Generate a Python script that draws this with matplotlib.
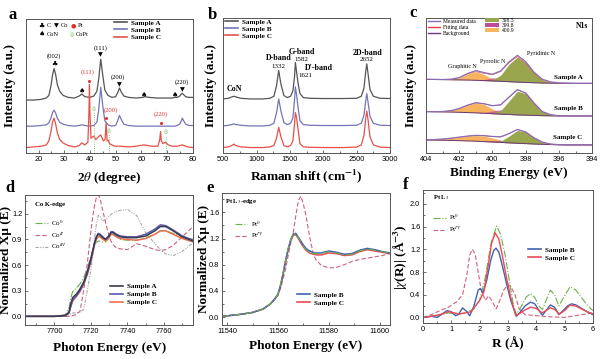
import numpy as np
import matplotlib
matplotlib.use('Agg')
import matplotlib.pyplot as plt
from matplotlib.ticker import MultipleLocator
from matplotlib.lines import Line2D
from matplotlib.patches import Patch

plt.rcParams['font.family'] = ['Liberation Serif', 'DejaVu Sans']
plt.rcParams['mathtext.fontset'] = 'stix'
plt.rcParams['axes.linewidth'] = 0.7

# ---------------- (a) XRD, intensity in arbitrary units (offset stack) ----------------
xrd_x_ab = [15, 18, 21, 23, 24, 24.8, 25.4, 26, 26.6, 27.3, 28.2, 29.5, 31.5, 34, 35.8, 36.8, 38, 40,
            41.5, 42.7, 43.4, 44.2, 45, 45.8, 47, 48.5, 50, 50.8, 51.5, 52.2, 53.2, 55, 58, 60.5, 61.5,
            63, 66, 70, 72, 73, 74, 75, 75.6, 76, 76.5, 77.3, 78.5, 80]
xrd_a = [39.5, 39.5, 40, 41, 43, 50, 58, 63, 59, 51, 46, 43, 41.5, 41, 42.5, 44, 42, 41.5, 42.5, 46,
         55, 70, 58, 47, 43, 41.5, 42, 45, 48.5, 45.5, 42.5, 41.5, 41, 41.5, 42, 41.5, 41, 41, 41, 41.5,
         41.5, 42.5, 44, 44.5, 43.5, 42, 41.5, 41.5]
xrd_b = [20, 20, 20.5, 21, 22.5, 26, 30, 32, 30, 26, 23, 21.5, 20.5, 20, 20.5, 21, 20.5, 20, 20.5, 23,
         32, 49, 35, 24, 21, 20, 20.5, 24, 28, 25, 21.5, 20.5, 20, 20, 20, 20, 20, 20, 20, 20,
         20.5, 21.5, 24, 26, 24, 21.5, 20.5, 20.5]
xrd_x_c = [15, 18, 21, 23, 24, 24.8, 25.4, 26, 26.6, 27.3, 28.2, 29.5, 31.5, 34, 35.8, 36.8, 38, 39.2,
           39.6, 39.8, 40.0, 40.4, 41.0, 41.5, 42.3, 43.2, 44.2, 45.2, 45.9, 46.3, 46.7, 47.2, 47.6, 48.5,
           50, 52, 55, 58, 61, 64, 66.5, 67.2, 67.5, 67.8, 68.4, 69.5, 70.5, 72, 74, 76, 78, 80]
xrd_c = [4, 4.5, 5, 6, 9, 16, 23, 26, 22, 15, 10, 7.5, 5.5, 4.5, 5.5, 7.5, 6, 8, 30, 51,
         30, 11, 12, 12.5, 10, 12, 13.5, 9, 10, 22.5, 9, 9.5, 7, 6, 5, 5, 4.5, 5, 6, 5,
         5, 10, 16, 9, 7, 8, 6, 5, 5, 6, 4.5, 4]

# ---------------- (b) Raman ----------------
raman_x = [500, 580, 630, 660, 690, 760, 900, 1100, 1200, 1260, 1300, 1332, 1365, 1410, 1460, 1510,
           1545, 1570, 1582, 1600, 1621, 1650, 1700, 1800, 2000, 2300, 2500, 2570, 2610, 2635, 2652,
           2670, 2700, 2750, 2850, 3000]
raman_a = [40, 40.5, 41.5, 42, 41.5, 40.5, 40, 40, 40.5, 42, 50, 61, 51, 42.5, 41, 42, 46, 57, 67, 60,
           52, 44, 41, 40.5, 40.3, 40.3, 40.5, 42, 48, 60, 66, 59, 47, 42, 40.5, 40.3]
raman_b = [20, 20.5, 21, 21.5, 21, 20.5, 20, 20, 20.5, 22, 30, 40, 31, 22.5, 21, 22, 26, 40, 49, 43,
           34, 24, 21, 20.5, 20.3, 20.3, 20.5, 22, 28, 38, 44, 38, 27, 22, 20.5, 20.3]
raman_c = [4, 4.5, 5.5, 6.5, 5.5, 4.5, 4, 4, 4.5, 5.5, 11, 19, 12, 5.5, 4.5, 5.5, 9, 22, 30, 26,
           18, 7, 4.5, 4.2, 4, 4, 4.3, 6, 13, 25, 31, 25, 12, 6, 4.3, 4]

# ---------------- (c) N1s XPS ----------------
be = [404, 403.5, 403, 402.5, 402, 401.5, 401, 400.5, 400, 399.5, 399, 398.5, 398, 397.5, 397,
      396.5, 396, 395.5, 395, 394.5, 394]
bg_a = [54.5, 54.4, 54.3, 54.2, 54.1, 54.0, 53.8, 53.6, 53.4, 53.1, 52.8, 52.5, 52.2, 52.0, 51.8,
        51.7, 51.6, 51.6, 51.5, 51.5, 51.5]
n398_a = [0, 0, 0, 0, 0, 0, 0, 0, 0.8, 4.5, 13, 18.5, 14.5, 7, 2.2, 0.5, 0, 0, 0, 0, 0]
n399_a = [0, 0, 0, 0, 0, 0, 0, 0.8, 2.2, 2.4, 1.0, 0.3, 0, 0, 0, 0, 0, 0, 0, 0, 0]
n400_a = [0, 0, 0, 0.3, 1.5, 4.5, 6.4, 4.5, 1.5, 0.3, 0, 0, 0, 0, 0, 0, 0, 0, 0, 0, 0]
meas_a = [54.6, 54.5, 54.4, 54.6, 55.8, 58.8, 61.0, 59.5, 58.3, 60.8, 67.5, 72.3, 67.6, 59.8, 54.6,
          52.6, 51.9, 51.7, 51.6, 51.6, 51.6]
bg_b = [30.6, 30.5, 30.4, 30.3, 30.1, 29.9, 29.7, 29.4, 29.1, 28.8, 28.5, 28.2, 28.0, 27.8, 27.6,
        27.5, 27.4, 27.4, 27.4, 27.4, 27.4]
n398_b = [0, 0, 0, 0, 0, 0, 0, 0, 0.3, 2.5, 10, 17.5, 16, 9, 3, 0.7, 0, 0, 0, 0, 0]
n399_b = [0, 0, 0, 0, 0, 0, 0, 0.5, 2.0, 3.2, 2.5, 1.0, 0.3, 0, 0, 0, 0, 0, 0, 0, 0]
n400_b = [0, 0, 0.3, 1.0, 2.8, 5.5, 7.5, 6.5, 3.5, 1.0, 0.2, 0, 0, 0, 0, 0, 0, 0, 0, 0, 0]
meas_b = [30.6, 30.5, 30.7, 31.3, 32.9, 35.4, 37.2, 36.4, 35.0, 35.7, 41.4, 46.9, 44.4, 37.0, 30.6,
          28.3, 27.5, 27.4, 27.4, 27.4, 27.4]
bg_c = [9.6, 9.5, 9.4, 9.3, 9.1, 8.9, 8.7, 8.4, 8.1, 7.8, 7.5, 7.2, 6.9, 6.6, 6.4, 6.2, 6.0, 5.9,
        5.9, 5.9, 5.9]
n398_c = [0, 0, 0, 0, 0, 0, 0, 0, 0, 0.8, 5, 9.5, 8.5, 4.5, 1.5, 0.3, 0, 0, 0, 0, 0]
n399_c = [0, 0, 0, 0, 0, 0, 0, 0.3, 1.0, 1.6, 1.2, 0.5, 0, 0, 0, 0, 0, 0, 0, 0, 0]
n400_c = [0, 0.3, 0.8, 1.5, 2.5, 3.5, 4.2, 4.0, 3.0, 1.6, 0.6, 0.2, 0, 0, 0, 0, 0, 0, 0, 0, 0]
meas_c = [9.7, 9.9, 10.3, 10.9, 11.7, 12.5, 13.0, 12.8, 12.2, 12.0, 14.3, 17.4, 15.5, 11.2, 8.0,
          6.6, 6.1, 6.0, 6.0, 6.0, 6.0]

# ---------------- (d) Co K-edge XANES ----------------
e_co = [7684, 7700, 7706, 7708, 7709, 7710, 7712, 7714, 7716, 7718, 7720, 7721, 7722, 7723, 7724,
        7725, 7726, 7728, 7730, 7731, 7732, 7734, 7736, 7740, 7745, 7750, 7755, 7758, 7761, 7765,
        7770, 7776]
co_a = [0.0, 0.0, 0.01, 0.05, 0.15, 0.22, 0.26, 0.32, 0.40, 0.52, 0.68, 0.77, 0.86, 0.93, 0.96, 0.95,
        0.93, 0.9, 0.94, 0.98, 0.98, 0.95, 0.93, 0.92, 0.92, 0.94, 1.0, 1.05, 1.05, 1.0, 0.93, 0.88]
co_b = [0.0, 0.0, 0.01, 0.04, 0.12, 0.19, 0.24, 0.3, 0.38, 0.5, 0.66, 0.76, 0.86, 0.93, 0.97, 0.96,
        0.94, 0.9, 0.95, 0.99, 0.99, 0.96, 0.94, 0.93, 0.93, 0.96, 1.02, 1.07, 1.06, 1.01, 0.94, 0.89]
co_c = [0.0, 0.0, 0.01, 0.04, 0.12, 0.18, 0.23, 0.29, 0.37, 0.49, 0.64, 0.74, 0.84, 0.9, 0.93, 0.93,
        0.91, 0.88, 0.92, 0.96, 0.96, 0.93, 0.91, 0.9, 0.89, 0.91, 0.96, 1.0, 1.0, 0.96, 0.91, 0.87]
co_0 = [0.0, 0.0, 0.02, 0.1, 0.22, 0.29, 0.33, 0.38, 0.45, 0.56, 0.7, 0.78, 0.84, 0.87, 0.88, 0.88,
        0.87, 0.87, 0.92, 0.96, 0.96, 0.93, 0.9, 0.89, 0.89, 0.92, 0.96, 1.0, 1.0, 0.97, 0.93, 0.9]
co_2 = [0.0, 0.0, 0.0, 0.0, 0.0, 0.01, 0.02, 0.06, 0.3, 0.62, 1.0, 1.17, 1.3, 1.39, 1.42, 1.38,
        1.28, 1.1, 0.93, 0.88, 0.84, 0.8, 0.79, 0.78, 0.85, 0.82, 0.78, 0.77, 0.78, 0.83, 0.93, 1.05]
co_3 = [0.0, 0.0, 0.0, 0.02, 0.03, 0.04, 0.04, 0.05, 0.08, 0.3, 0.55, 0.72, 0.92, 1.08, 1.18, 1.17,
        1.12, 1.13, 1.17, 1.19, 1.21, 1.23, 1.24, 1.25, 1.18, 0.98, 0.85, 0.78, 0.73, 0.71, 0.76, 0.86]

# ---------------- (e) Pt L3-edge XANES ----------------
e_pt = [11538, 11545, 11550, 11554, 11557, 11559, 11560, 11561, 11562, 11563, 11564, 11565, 11566,
        11567, 11568, 11569, 11570, 11571, 11572, 11573, 11574, 11575, 11577, 11580, 11583, 11586,
        11589, 11592, 11595, 11598, 11601, 11604]
pt_b = [0.01, 0.04, 0.07, 0.12, 0.2, 0.29, 0.35, 0.48, 0.66, 0.86, 1.04, 1.18, 1.27, 1.28, 1.22, 1.16,
        1.1, 1.05, 1.02, 1.0, 0.98, 0.98, 0.98, 1.01, 0.99, 0.96, 0.97, 1.02, 1.05, 1.03, 1.0, 0.98]
pt_c = [0.01, 0.04, 0.07, 0.12, 0.2, 0.29, 0.35, 0.48, 0.66, 0.86, 1.03, 1.17, 1.25, 1.26, 1.2, 1.13,
        1.07, 1.02, 0.99, 0.97, 0.96, 0.95, 0.95, 0.98, 0.97, 0.94, 0.95, 1.0, 1.03, 1.01, 0.99, 0.97]
pt_0 = [0.01, 0.04, 0.07, 0.12, 0.2, 0.29, 0.36, 0.5, 0.68, 0.88, 1.05, 1.19, 1.27, 1.27, 1.21, 1.15,
        1.08, 1.03, 1.0, 0.98, 0.97, 0.97, 0.97, 1.0, 0.98, 0.95, 0.96, 1.01, 1.04, 1.02, 1.0, 0.98]
pt_4 = [0.01, 0.04, 0.07, 0.12, 0.2, 0.28, 0.33, 0.44, 0.58, 0.74, 0.94, 1.13, 1.3, 1.55, 1.78, 1.85,
        1.72, 1.55, 1.32, 1.12, 0.95, 0.87, 0.79, 0.75, 0.76, 0.8, 0.85, 0.88, 0.9, 0.92, 0.94, 0.97]

# ---------------- (f) Pt L3 EXAFS, R space ----------------
r_b = [0.0, 0.3, 0.5, 0.7, 0.85, 1.0, 1.15, 1.25, 1.4, 1.55, 1.65, 1.8, 1.95, 2.02, 2.12, 2.25, 2.4,
       2.5, 2.58, 2.68, 2.8, 2.95, 3.1, 3.3, 3.45, 3.6, 3.8, 3.95, 4.1, 4.22, 4.35, 4.5, 4.65, 4.8,
       4.95, 5.1, 5.25, 5.4, 5.6, 5.8, 6.0]
ft_b = [0.0, 0.02, 0.0, 0.07, 0.12, 0.1, 0.03, 0.05, 0.17, 0.1, 0.03, 0.2, 0.48, 0.51, 0.43, 0.65,
        1.02, 1.18, 1.22, 1.15, 0.92, 0.6, 0.3, 0.02, 0.1, 0.2, 0.27, 0.24, 0.12, 0.04, 0.12, 0.22,
        0.18, 0.05, 0.12, 0.2, 0.24, 0.22, 0.16, 0.1, 0.05]
r_c = [0.0, 0.3, 0.6, 0.9, 1.1, 1.3, 1.5, 1.7, 1.85, 2.0, 2.15, 2.3, 2.42, 2.55, 2.68, 2.8, 2.95,
       3.1, 3.28, 3.45, 3.6, 3.8, 4.0, 4.2, 4.35, 4.5, 4.65, 4.82, 5.0, 5.2, 5.4, 5.6, 5.8, 6.0]
ft_c = [0.0, 0.02, 0.05, 0.1, 0.08, 0.06, 0.08, 0.1, 0.2, 0.3, 0.45, 0.9, 1.3, 1.49, 1.38, 1.1, 0.7,
        0.35, 0.03, 0.08, 0.13, 0.18, 0.16, 0.08, 0.12, 0.17, 0.14, 0.06, 0.12, 0.22, 0.2, 0.15, 0.1,
        0.06]
r_0 = [0.0, 0.3, 0.6, 0.9, 1.2, 1.5, 1.8, 2.0, 2.2, 2.4, 2.6, 2.75, 2.9, 3.05, 3.2, 3.3, 3.5, 3.65,
       3.8, 3.95, 4.1, 4.22, 4.35, 4.5, 4.65, 4.8, 5.0, 5.2, 5.4, 5.6, 5.8, 6.0]
ft_0 = [0.0, 0.02, 0.04, 0.08, 0.06, 0.08, 0.15, 0.3, 0.7, 1.3, 1.61, 1.45, 1.1, 0.65, 0.2, 0.05,
        0.22, 0.36, 0.42, 0.35, 0.2, 0.14, 0.3, 0.48, 0.4, 0.2, 0.38, 0.54, 0.48, 0.35, 0.22, 0.12]
r_4 = [0.0, 0.3, 0.6, 0.9, 1.2, 1.4, 1.55, 1.65, 1.75, 1.85, 1.95, 2.05, 2.2, 2.32, 2.45, 2.58, 2.7,
       2.85, 3.0, 3.1, 3.25, 3.4, 3.6, 4.0, 4.5, 5.0, 5.5, 6.0]
ft_4 = [0.0, 0.05, 0.12, 0.18, 0.28, 0.4, 0.75, 1.1, 1.2, 1.1, 0.8, 0.5, 0.3, 0.38, 0.28, 0.15, 0.28,
        0.48, 0.58, 0.55, 0.4, 0.15, 0.05, 0.03, 0.01, 0.0, 0.04, 0.08]

samples = ['Sample A', 'Sample B', 'Sample C']

# colours
c_a, c_b, c_c = '#555555', '#7474b8', '#e8504a'
c_green, c_pink, c_grey = '#6cb04a', '#d0607e', '#a8a8a8'
DASHDOTDOT = (0, (3, 1.2, 1, 1.2, 1, 1.2))

fig = plt.figure(figsize=(6, 3.59), dpi=100)


def style(ax, xmaj, xmin, ymaj=None, ymin=None):
    ax.xaxis.set_major_locator(MultipleLocator(xmaj))
    ax.xaxis.set_minor_locator(MultipleLocator(xmin))
    if ymaj is None:
        ax.set_yticks([])
    else:
        ax.yaxis.set_major_locator(MultipleLocator(ymaj))
        ax.yaxis.set_minor_locator(MultipleLocator(ymin))
    ax.tick_params(which='both', direction='in', labelsize=5.3, pad=2, width=0.6,
                   color='#555555', labelfontfamily='Liberation Sans')
    ax.tick_params(which='major', length=2.5)
    ax.tick_params(which='minor', length=1.5)
    for s in ax.spines.values():
        s.set_color('#555555')


def labels(ax, xl, yl, xy, yx):
    ax.set_xlabel(xl, fontsize=9.5, fontweight='bold')
    ax.set_ylabel(yl, fontsize=9.5, fontweight='bold')
    ax.xaxis.set_label_coords(0.5, xy)
    ax.yaxis.set_label_coords(yx, 0.5)


def legend(ax, handles, names, x, y, size=5.2, weight='bold', spacing=0.15, hl=1.8):
    return ax.legend(handles, names, loc='upper left', bbox_to_anchor=(x, y), frameon=False,
                     borderpad=0, borderaxespad=0, handlelength=hl, handletextpad=0.5,
                     labelspacing=spacing, prop={'family': 'Liberation Serif', 'weight': weight,
                                                 'size': size})


sample_handles = [Line2D([], [], color=c, lw=1.2) for c in (c_a, c_b, c_c)]

# ======== (a) ========
ax = fig.add_axes([0.043, 0.574, 0.278, 0.373])
for xs, ys, col in [(xrd_x_ab, xrd_a, c_a), (xrd_x_ab, xrd_b, c_b), (xrd_x_c, xrd_c, c_c)]:
    ax.plot(xs, ys, color=col, lw=0.9)
ax.set_xlim(15, 80)
ax.set_ylim(0, 100)
style(ax, 10, 5)
labels(ax, r'2$\theta$ (degree)', 'Intensity (a.u.)', -0.13, -0.057)

sym = dict(family='DejaVu Sans', ha='center', va='center')
ax.text(26, 66, '♣', fontsize=5, color='k', **sym)
for px, py in [(37, 46), (61.2, 43.5), (73, 43)]:
    ax.text(px, py, '♠', fontsize=5, color='k', **sym)
for px, py in [(44.2, 73), (51.5, 51), (76, 47)]:
    ax.text(px, py, '▼', fontsize=4.5, color='k', **sym)
for px, py in [(39.7, 53.5), (46.4, 26), (67.5, 22.5)]:
    ax.plot(px, py, 'o', color='#e03030', ms=2.2, mec='none')
for px, py in [(41.5, 33), (47.3, 16.5), (69.6, 15.5)]:
    ax.plot([px, px], [0, py - 2.5], color=c_green, lw=0.6, ls=':')
    ax.text(px, py, '◎', fontsize=3.5, color=c_green, **sym)
ann = dict(fontsize=4.8, ha='center', va='center')
for txt, px, py in [('(002)', 26, 72.5), ('(111)', 44.2, 78.5), ('(200)', 51, 56.5), ('(220)', 75.7, 53)]:
    ax.text(px, py, txt, color='k', **ann)
for txt, px, py in [('(111)', 39.2, 60), ('(200)', 48, 32), ('(220)', 67.5, 29)]:
    ax.text(px, py, txt, color='#e03030', **ann)
# marker key
tr = ax.transAxes
ax.text(0.094, 0.95, '♣', fontsize=5, transform=tr, **sym)
ax.text(0.184, 0.95, '▼', fontsize=4.5, transform=tr, **sym)
ax.text(0.287, 0.95, '●', fontsize=4.5, color='#e03030', transform=tr, **sym)
ax.text(0.094, 0.886, '♠', fontsize=5, transform=tr, **sym)
ax.text(0.274, 0.886, '◎', fontsize=3.5, color=c_green, transform=tr, **sym)
for txt, px, py in [('C', 0.125, 0.95), ('Co', 0.212, 0.95), ('Pt', 0.31, 0.95),
                    ('CoN', 0.125, 0.886), ('CoPt', 0.298, 0.886)]:
    ax.text(px, py, txt, fontsize=4.6, ha='left', va='center', transform=tr)
legend(ax, sample_handles, samples, 0.53, 0.995)

# ======== (b) ========
ax = fig.add_axes([0.372, 0.574, 0.278, 0.376])
for ys, col in [(raman_a, c_a), (raman_b, c_b), (raman_c, c_c)]:
    ax.plot(raman_x, ys, color=col, lw=0.9)
ax.set_xlim(500, 3000)
ax.set_ylim(0, 100)
style(ax, 500, 250)
labels(ax, r'Raman shift (cm$^{\mathbf{-1}}$)', 'Intensity (a.u.)', -0.104, -0.039)
for txt, px, py, w in [('CoN', 660, 47, 'bold'), ('D-band', 1328, 70.4, 'bold'), ('1332', 1328, 64, 'normal'),
                       ('G-band', 1678, 75, 'bold'), ('1582', 1668, 69, 'normal'),
                       ("D'-band", 1937, 62.7, 'bold'), ('1621', 1738, 57, 'normal'),
                       ('2D-band', 2660, 74.3, 'bold'), ('2652', 2650, 69, 'normal')]:
    ax.text(px, py, txt, fontsize=5.8 if w == 'bold' else 5, fontweight=w, ha='center', va='center')
legend(ax, sample_handles, samples, 0.012, 0.996)

# ======== (c) ========
ax = fig.add_axes([0.71, 0.574, 0.277, 0.376])
col_398, col_399, col_400 = '#9aa64e', '#c04a9c', '#f7b35e'
col_meas, col_fit, col_bg = '#8a6cb4', '#e84040', '#6a3a7a'
for bg, g, p, o, meas in [(bg_a, n398_a, n399_a, n400_a, meas_a),
                          (bg_b, n398_b, n399_b, n400_b, meas_b),
                          (bg_c, n398_c, n399_c, n400_c, meas_c)]:
    bg, g, p, o = map(np.array, (bg, g, p, o))
    ax.fill_between(be, bg, bg + o, color=col_400, lw=0)
    ax.fill_between(be, bg, bg + p, color=col_399, alpha=0.7, lw=0)
    ax.fill_between(be, bg, bg + g, color=col_398, lw=0)
    ax.plot(be, bg, color=col_bg, lw=0.7)
    ax.plot(be, bg + g + p + o, color=col_fit, lw=0.4)
    ax.plot(be, meas, color=col_meas, lw=0.9)
ax.set_xlim(404, 394)
ax.set_ylim(0, 100)
style(ax, 2, 1)
labels(ax, 'Binding Energy (eV)', 'Intensity (a.u.)', -0.104, -0.057)
ax.text(0.94, 0.94, 'N1s', fontsize=5.5, fontweight='bold', ha='center', va='center', transform=ax.transAxes)
for txt, px, py in [('Graphitic N', 401.8, 63.7), ('Pyrrolic N', 400.0, 68), ('Pyridinic N', 397.1, 74)]:
    ax.text(px, py, txt, fontsize=4.3, ha='center', va='center')
for txt, py in [('Sample A', 56), ('Sample B', 32.6), ('Sample C', 11.8)]:
    ax.text(0.855, py / 100, txt, fontsize=5, fontweight='bold', ha='center', va='center',
            transform=ax.transAxes)
lg = legend(ax, [Line2D([], [], color=c, lw=1.0) for c in (col_meas, col_fit, col_bg)],
            ['Measured data', 'Fitting data', 'Background'], 0.012, 0.995, size=4.0,
            weight='normal', spacing=0.2, hl=2.2)
ax.add_artist(lg)
legend(ax, [Patch(facecolor=c, lw=0) for c in (col_398, col_399, col_400)],
       ['398.5', '399.8', '400.9'], 0.355, 1.0, size=4.0, weight='normal', spacing=0.0, hl=2.6)

# ======== (d) ========
ax = fig.add_axes([0.042, 0.095, 0.28, 0.362])
ax.plot(e_co, co_3, color=c_grey, lw=0.8, ls=DASHDOTDOT)
ax.plot(e_co, co_0, color=c_green, lw=0.8, ls='-.')
ax.plot(e_co, co_2, color=c_pink, lw=0.8, ls=(0, (4, 2)))
ax.plot(e_co, co_c, color='#ea7050', lw=1.1)
ax.plot(e_co, co_b, color='#5858b0', lw=1.1)
ax.plot(e_co, co_a, color='#3a3a50', lw=1.1)
ax.set_xlim(7684, 7776)
ax.set_ylim(-0.1, 1.42)
style(ax, 20, 10, 0.3, 0.15)
labels(ax, 'Photon Energy (eV)', 'Normalized Xμ (E)', -0.13, -0.076)
ax.text(0.06, 0.93, 'Co K-edge', fontsize=4.8, fontweight='bold', ha='left', va='center',
        transform=ax.transAxes)
lg = legend(ax, [Line2D([], [], color=c_green, lw=0.8, ls='-.'),
                 Line2D([], [], color=c_pink, lw=0.8, ls=(0, (4, 2))),
                 Line2D([], [], color=c_grey, lw=0.8, ls=DASHDOTDOT)],
            ['Co$^{0}$', 'Co$^{II}$', 'Co$^{III}$'], 0.06, 0.82, size=5, weight='normal', spacing=0.3)
ax.add_artist(lg)
legend(ax, [Line2D([], [], color=c, lw=1.2) for c in ('#3a3a50', '#5858b0', '#ea7050')],
       samples, 0.506, 0.32, spacing=0.25)

# ======== (e) ========
c_blue, c_red = '#4262b0', '#e84a56'
ax = fig.add_axes([0.37, 0.095, 0.28, 0.368])
ax.plot(e_pt, pt_4, color=c_pink, lw=0.8, ls=(0, (4, 2)))
ax.plot(e_pt, pt_c, color=c_red, lw=1.1)
ax.plot(e_pt, pt_b, color=c_blue, lw=1.1)
ax.plot(e_pt, pt_0, color=c_green, lw=0.8, ls='-.')
ax.set_xlim(11538, 11604)
ax.set_ylim(-0.12, 1.9)
style(ax, 20, 10, 0.4, 0.2)
labels(ax, 'Photon Energy (eV)', 'Normalized Xμ (E)', -0.115, -0.07)
ax.text(0.018, 0.935, 'Pt L$_3$-edge', fontsize=4.8, fontweight='bold', ha='left', va='center',
        transform=ax.transAxes)
lg = legend(ax, [Line2D([], [], color=c_green, lw=0.8, ls='-.'),
                 Line2D([], [], color=c_pink, lw=0.8, ls=(0, (4, 2)))],
            ['Pt$^{0}$', 'Pt$^{IV}$'], 0.077, 0.8, size=5, weight='normal', spacing=0.3)
ax.add_artist(lg)
legend(ax, [Line2D([], [], color=c, lw=1.2) for c in (c_blue, c_red)],
       samples[1:], 0.446, 0.25, spacing=0.25)

# ======== (f) ========
ax = fig.add_axes([0.705, 0.1, 0.283, 0.37])
ax.plot(r_4, ft_4, color=c_pink, lw=0.8, ls=(0, (4, 2)))
ax.plot(r_0, ft_0, color=c_green, lw=0.8, ls='-.')
ax.plot(r_b, ft_b, color=c_blue, lw=1.0)
ax.plot(r_c, ft_c, color=c_red, lw=1.0)
ax.set_xlim(0, 6)
ax.set_ylim(-0.1, 2.24)
style(ax, 1, 0.5, 0.4, 0.2)
labels(ax, 'R (Å)', r'|$\chi$(R)| (Å$^{\mathbf{-3}}$)', -0.105, -0.075)
ax.text(0.06, 0.945, 'Pt L$_3$', fontsize=4.8, fontweight='bold', ha='left', va='center',
        transform=ax.transAxes)
lg = legend(ax, [Line2D([], [], color=c_green, lw=0.8, ls='-.'),
                 Line2D([], [], color=c_pink, lw=0.8, ls=(0, (4, 2)))],
            ['Pt$^{0}$', 'Pt$^{IV}$'], 0.06, 0.83, size=5, weight='normal', spacing=0.3)
ax.add_artist(lg)
legend(ax, [Line2D([], [], color=c, lw=1.2) for c in (c_blue, c_red)],
       samples[1:], 0.62, 0.575, spacing=0.25)

# panel letters
for letter, px, py in [('a', 13, 15), ('b', 212, 15), ('c', 413, 13),
                       ('d', 10, 188), ('e', 210, 188), ('f', 406, 185)]:
    fig.text(px / 600, 1 - py / 359, letter, fontsize=12, fontweight='bold', ha='center', va='center')

fig.savefig('out.png', dpi=100)
